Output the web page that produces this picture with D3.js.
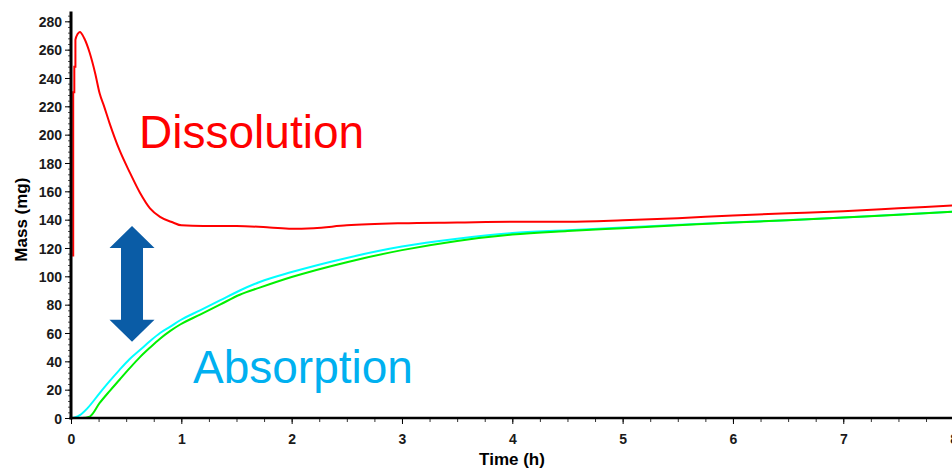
<!DOCTYPE html>
<html>
<head>
<meta charset="utf-8">
<script src="https://cdn.jsdelivr.net/npm/d3@7"></script>
<style>
  html, body { margin: 0; padding: 0; background: #fff; overflow: hidden; }
  svg { display: block; font-family: Arial, "Liberation Sans", sans-serif; }
  .tick text { font-weight: bold; font-size: 14px; fill: #1a1a1a; }
  .axis-title { font-weight: bold; font-size: 17px; fill: #000; }
</style>
</head>
<body>
<div id="chart"></div>
<script>
// ---- data (time in h, mass in mg) ----
var xTicks = [0, 1, 2, 3, 4, 5, 6, 7, 8];
var yTicks = [0, 20, 40, 60, 80, 100, 120, 140, 160, 180, 200, 220, 240, 260, 280];

var dissolution = [
  [0.02, 114], [0.02, 230], [0.03, 230], [0.03, 248], [0.04, 248], [0.04, 267],
  [0.06, 271], [0.08, 272.5], [0.12, 268], [0.17, 257.6], [0.22, 243], [0.26, 229],
  [0.30, 220], [0.35, 208], [0.44, 189], [0.535, 173], [0.625, 159], [0.716, 148],
  [0.807, 142], [0.925, 138], [1.0, 136], [1.2, 135.5], [1.5, 135.5], [1.8, 134.5],
  [2.0, 133.5], [2.2, 134], [2.5, 136], [3, 137.5], [3.5, 138], [4, 138.5],
  [4.5, 138.5], [5, 139.5], [5.5, 141], [6, 143], [6.5, 144.5], [7, 146],
  [7.5, 148], [8, 150]
];

var absorptionCyan = [
  [0, 0], [0.04, 0.5], [0.08, 2], [0.15, 7], [0.26, 17.6], [0.35, 26], [0.44, 34],
  [0.53, 41.5], [0.625, 48], [0.72, 54.5], [0.807, 60], [0.9, 64.5], [0.99, 69],
  [1.17, 76], [1.35, 83], [1.53, 90], [1.71, 96], [2, 103], [2.5, 113], [3, 121],
  [3.5, 126.5], [4, 130.5], [4.5, 132.5], [5, 134.5], [6, 138], [7, 141.5], [8, 145.6]
];

var absorptionGreen = [
  [0, 0], [0.1, 0], [0.17, 1], [0.26, 10.6], [0.35, 19], [0.44, 27], [0.53, 35],
  [0.625, 43], [0.72, 50], [0.807, 56], [0.9, 61.5], [0.99, 66], [1.17, 73],
  [1.35, 80], [1.53, 87], [1.71, 92], [2, 99.5], [2.5, 110], [3, 118.5], [3.5, 125],
  [4, 129.5], [4.5, 132], [5, 134], [5.5, 136], [6, 138], [6.5, 139.5], [7, 141.5],
  [7.5, 143.5], [8, 145.6]
];

// annotations, placed in data units
var labels = [
  { text: 'Dissolution', t: 0.617, m: 190.4, color: '#ff0000' },
  { text: 'Absorption', t: 1.106, m: 24.5, color: '#00b0f0' }
];
var arrow = { t: 0.553, top: 135.5, bottom: 53.9 };

// ---- chart ----
var width = 952, height = 471;
var svg = d3.select('#chart').append('svg')
  .attr('width', width)
  .attr('height', height);

var x = d3.scaleLinear().domain([0, 8]).range([71, 953.6]);
var y = d3.scaleLinear().domain([0, 287]).range([418, 11.4]);

// minor ticks
var xMinor = d3.range(0, 8.01, 0.25);
var yMinor = d3.range(0, 287, 4);

svg.append('g')
  .attr('transform', 'translate(0,' + y(0) + ')')
  .call(d3.axisBottom(x).tickValues(xMinor).tickSize(4).tickFormat(''))
  .call(function(g){ g.select('.domain').remove(); })
  .selectAll('line').attr('stroke', '#333');

svg.append('g')
  .attr('transform', 'translate(' + x(0) + ',0)')
  .call(d3.axisLeft(y).tickValues(yMinor).tickSize(3).tickFormat(''))
  .call(function(g){ g.select('.domain').remove(); })
  .selectAll('line').attr('stroke', '#555');

// major axes
var xAxis = svg.append('g')
  .attr('transform', 'translate(0,' + y(0) + ')')
  .call(d3.axisBottom(x).tickValues(xTicks).tickSize(6).tickPadding(10).tickFormat(d3.format('d')));
xAxis.select('.domain').remove();

var yAxis = svg.append('g')
  .attr('transform', 'translate(' + x(0) + ',0)')
  .call(d3.axisLeft(y).tickValues(yTicks).tickSize(6).tickPadding(3).tickFormat(d3.format('d')));
yAxis.select('.domain').remove();
yAxis.selectAll('.tick text').attr('dy', '0.36em');

// curves
var line = d3.line()
  .x(function(d){ return x(d[0]); })
  .y(function(d){ return y(d[1]); })
  .curve(d3.curveMonotoneX);

svg.append('path').datum(dissolution)
  .attr('d', line).attr('fill', 'none').attr('stroke', '#ff0000').attr('stroke-width', 2);
svg.append('path').datum(absorptionCyan)
  .attr('d', line).attr('fill', 'none').attr('stroke', '#00ffff').attr('stroke-width', 2);
svg.append('path').datum(absorptionGreen)
  .attr('d', line).attr('fill', 'none').attr('stroke', '#00f000').attr('stroke-width', 2);

// axis lines on top
svg.append('line')
  .attr('x1', x(0)).attr('x2', x(0))
  .attr('y1', y(287)).attr('y2', y(0) + 1.5)
  .attr('stroke', '#000').attr('stroke-width', 3);
svg.append('line')
  .attr('x1', x(0) - 1.5).attr('x2', width)
  .attr('y1', y(0)).attr('y2', y(0))
  .attr('stroke', '#000').attr('stroke-width', 2.5);

// axis titles
svg.append('text').attr('class', 'axis-title')
  .attr('x', 512).attr('y', 465)
  .attr('text-anchor', 'middle')
  .text('Time (h)');
svg.append('text').attr('class', 'axis-title')
  .attr('transform', 'translate(27,' + ((y(0) + y(280)) / 2) + ') rotate(-90)')
  .attr('text-anchor', 'middle')
  .text('Mass (mg)');

// big labels
svg.selectAll('.big-label')
  .data(labels)
  .enter().append('text')
    .attr('class', 'big-label')
    .attr('x', function(d){ return x(d.t); })
    .attr('y', function(d){ return y(d.m); })
    .attr('fill', function(d){ return d.color; })
    .style('font-size', '46px')
    .text(function(d){ return d.text; });

// double arrow
var ax = x(arrow.t), at = y(arrow.top), ab = y(arrow.bottom);
var headH = 22, headW = 22.5, shaftW = 11;
var pts = [
  [ax, at], [ax + headW, at + headH], [ax + shaftW, at + headH],
  [ax + shaftW, ab - headH], [ax + headW, ab - headH], [ax, ab],
  [ax - headW, ab - headH], [ax - shaftW, ab - headH], [ax - shaftW, at + headH],
  [ax - headW, at + headH]
];
svg.append('polygon')
  .attr('points', pts.map(function(p){ return p.join(','); }).join(' '))
  .attr('fill', '#0a5ca6');
</script>
</body>
</html>
